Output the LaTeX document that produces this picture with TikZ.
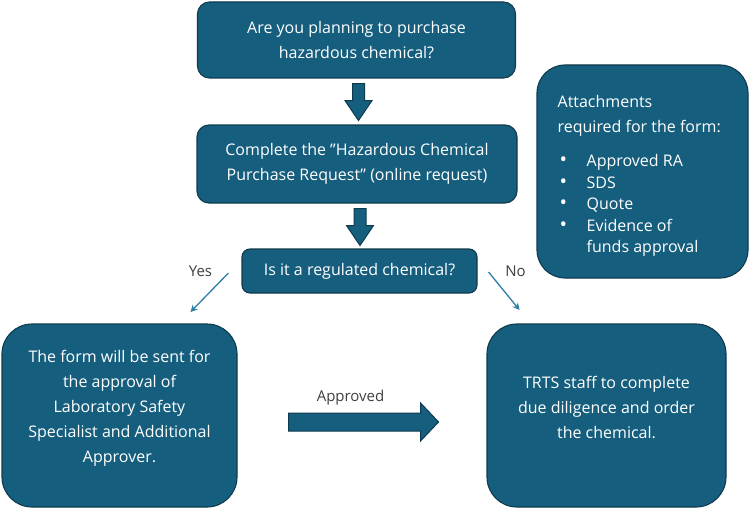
\documentclass[tikz,border=0pt]{standalone}
\usepackage{fontspec}
\setmainfont{Open Sans}
\usetikzlibrary{calc,arrows.meta}
\definecolor{boxfill}{HTML}{165E7D}
\definecolor{boxline}{HTML}{0E3A4F}
\definecolor{linkblue}{HTML}{2C7FA6}
\definecolor{labelgray}{HTML}{404040}
\newcommand{\attbullet}{\hspace{2pt}{\fontsize{20}{20}\selectfont\textbullet}}
\begin{document}
\begin{tikzpicture}[x=1pt,y=-1pt,
  flowbox/.style={draw=boxline,fill=boxfill,line width=1.1pt,text=white,align=center,
    font=\fontsize{16}{25}\selectfont,inner sep=0pt},
  boxtext/.style={text=white,align=center,font=\fontsize{16}{25}\selectfont,inner sep=0pt},
  sidelabel/.style={text=labelgray,font=\fontsize{15}{16}\selectfont,inner sep=0pt},
  link/.style={draw=linkblue,line width=1.3pt,-{Stealth[length=7pt,width=7pt]}},
  blockarrow/.style={fill=boxfill,draw=boxline,line width=1pt},
  pics/downarrow/.style={code={\path[blockarrow] (-6,0) -- (6,0) -- (6,17) -- (13.5,17) -- (0,37) -- (-13.5,17) -- (-6,17) -- cycle;}},
  pics/rightarrow/.style={code={\path[blockarrow] (0,-9) -- (132,-9) -- (132,-19) -- (150,0) -- (132,19) -- (132,9) -- (0,9) -- cycle;}}
]
\useasboundingbox (0,0) rectangle (750,511);

\node[flowbox,rounded corners=12pt,minimum width=318pt,minimum height=76pt] (q1) at (356.5,40)
  {Are you planning to purchase\\hazardous chemical?};
\node[flowbox,rounded corners=12pt,minimum width=320pt,minimum height=78pt] (q2) at (357,164)
  {Complete the \char"22 Hazardous Chemical\\Purchase Request\char"22\ (online request)};
\node[flowbox,rounded corners=8pt,minimum width=235pt,minimum height=44pt] (q3) at (359.5,271)
  {Is it a regulated chemical?};

\node[flowbox,rounded corners=28pt,minimum width=211pt,minimum height=213pt] (att) at (642.5,171.5) {};
\node[text=white,align=left,anchor=north west,inner sep=0pt,font=\fontsize{16}{25}\selectfont] (atttext) at ($(att.north west)+(21,31)$)
  {Attachments\\required for the form:\\[14pt]
   {\fontsize{16}{21.5}\selectfont\begin{tabular}{@{}p{29pt}@{}l@{}}
   \attbullet & Approved RA\\
   \attbullet & SDS\\
   \attbullet & Quote\\
   \attbullet & Evidence of\\
    & funds approval
   \end{tabular}}};

\node[flowbox,rounded corners=30pt,minimum width=235pt,minimum height=183pt] (leftbox) at (119.5,415.5) {};
\node[boxtext] (lefttext) at ($(leftbox.center)+(0,-7)$)
  {The form will be sent for\\the approval of\\Laboratory Safety\\Specialist and Additional\\Approver.};
\node[flowbox,rounded corners=30pt,minimum width=239pt,minimum height=183pt] (rightbox) at (606.5,415.5) {};
\node[boxtext] (righttext) at ($(rightbox.center)+(0,-8)$)
  {TRTS staff to complete\\due diligence and order\\the chemical.};

\pic at ($(q1.south)+(2,5)$) {downarrow};
\pic at ($(q2.south)+(3,5)$) {downarrow};
\pic at ($(leftbox.east)+(51,6.5)$) {rightarrow};

\node[sidelabel] (approved) at ($(leftbox.east)+(113,-17.5)$) {Approved};
\node[sidelabel] (yes) at ($(q3.west)+(-41,0)$) {Yes};
\node[sidelabel] (no) at ($(q3.east)+(38,0)$) {No};

\coordinate (yesS) at ($(q3.west)+(-13,2)$);
\coordinate (yesE) at ($(q3.west)+(-51,41)$);
\coordinate (noS) at ($(q3.east)+(11,1)$);
\coordinate (noE) at ($(q3.east)+(42,39)$);
\draw[link] (yesS) -- (yesE);
\draw[link] (noS) -- (noE);
\end{tikzpicture}
\end{document}
